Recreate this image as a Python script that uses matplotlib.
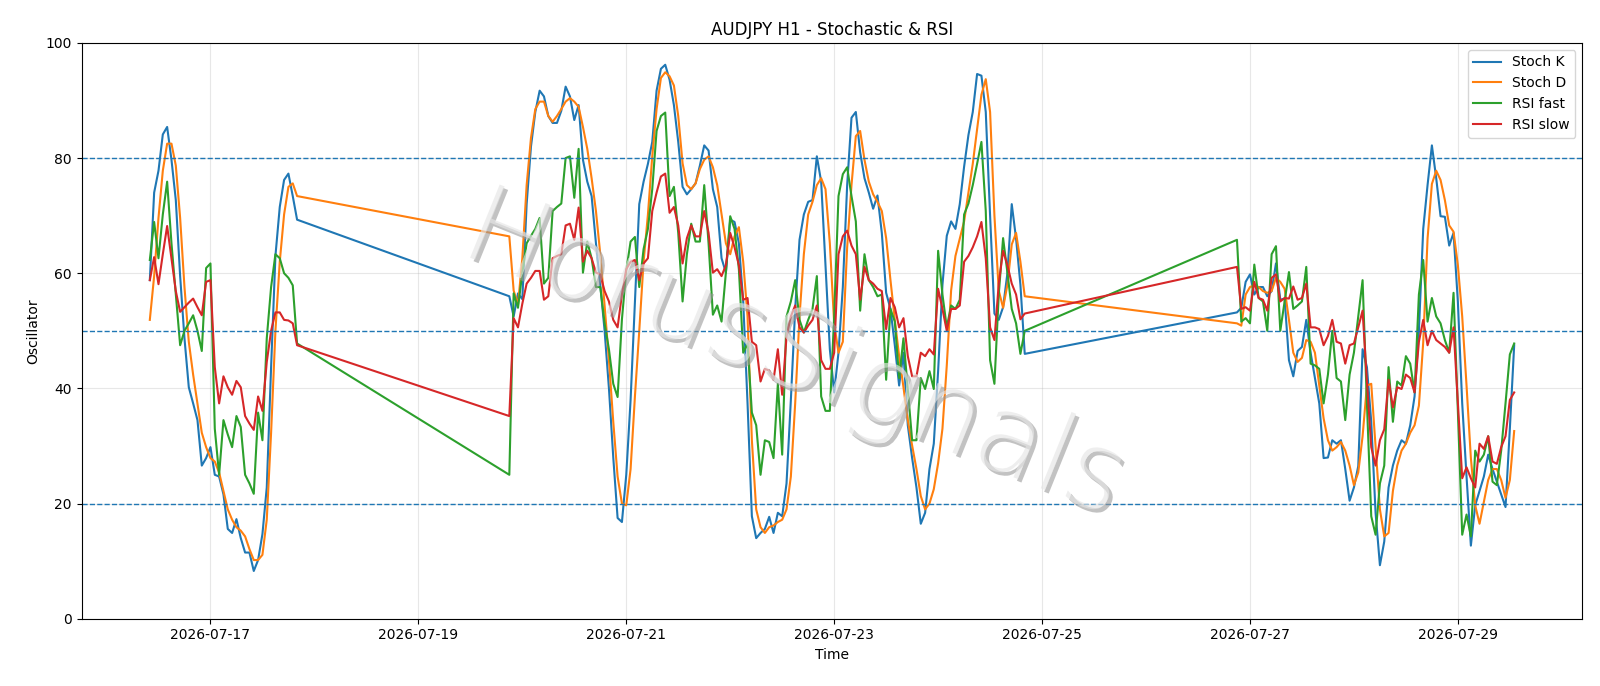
import numpy as np
import pandas as pd
import matplotlib
matplotlib.use("Agg")
import matplotlib.pyplot as plt
import matplotlib.dates as mdates
import matplotlib.patheffects as pe

# hourly bars, three trading blocks (weekend gaps in between)
block_starts = ["2026-07-16 10:00", "2026-07-19 21:00", "2026-07-26 21:00"]

stoch_k = [
    # block 1
    58.8, 74.0, 77.8, 84.1, 85.4, 79.7, 72.7, 59.5, 48.7, 40.2, 37.4, 34.5, 26.6, 27.9, 29.8, 25.0, 24.7, 21.6,
    15.6, 14.9, 17.3, 14.0, 11.5, 11.5, 8.3, 10.2, 14.7, 22.8, 43.7, 63.0, 71.5, 76.2, 77.3, 73.4, 69.3,
    # block 2
    56.0, 52.5, 56.5, 55.5, 72.0, 82.0, 88.0, 91.7, 90.7, 87.3, 86.1, 86.1, 88.2, 92.4, 90.7, 86.6, 89.2, 79.7,
    75.9, 73.4, 65.2, 58.0, 50.0, 40.0, 28.0, 17.5, 16.8, 25.0, 38.0, 55.0, 72.0,
    75.9, 79.0, 82.8, 91.7, 95.5, 96.2, 93.6, 89.2, 82.8, 75.0, 73.7, 74.6, 75.6, 78.7, 82.2, 81.3, 74.6, 71.5,
    62.6, 60.1, 69.3, 68.9, 65.2, 55.1, 37.4, 17.8, 14.0, 14.9, 15.6, 17.7, 14.9, 18.4, 17.8,
    23.5, 38.0, 53.8, 65.8, 70.2, 72.4, 72.7, 80.3, 75.9, 61.4, 46.8, 39.3, 46.2, 57.6, 75.3, 87.0, 88.0, 81.0,
    76.5, 74.0, 71.2, 73.5, 67.0, 56.6, 53.8, 47.5, 40.5, 46.2, 33.6, 27.9, 22.8, 16.5, 18.4, 26.0,
    30.4, 43.0, 58.0, 66.5, 69.0, 67.7, 72.0, 78.5, 84.0, 88.0, 94.6, 94.3, 88.0, 70.0, 53.0, 51.9, 54.1, 60.0,
    72.0, 66.0, 58.0, 46.0,
    # block 3
    53.2, 54.0, 58.5, 59.8, 56.3, 57.6, 57.6, 56.0, 56.9, 61.7, 55.4, 55.6, 44.9, 42.1, 46.5, 47.2, 51.9, 46.2,
    41.8, 37.4, 27.9, 28.0, 31.0, 30.4, 31.0, 26.0, 20.5,
    22.8, 26.5, 46.8, 43.7, 34.2, 18.4, 9.3, 13.4, 22.8, 26.6, 29.2, 31.0, 30.4, 33.6, 38.6, 50.0, 67.7, 75.3,
    82.2, 76.5, 69.9, 69.8, 64.8, 67.0, 55.0, 37.4, 24.7, 12.7, 19.7, 22.2, 24.7, 28.5, 26.0, 23.8, 21.6, 19.4,
    33.0, 47.5,
]

stoch_d = [
    51.9, 59.5, 69.6, 77.8, 82.5, 82.5, 78.7, 69.6, 57.6, 48.1, 42.4, 37.4, 32.3, 29.8, 27.9, 27.3, 25.4, 22.2,
    19.0, 17.2, 15.9, 15.3, 14.3, 12.1, 10.2, 10.2, 11.1, 17.2, 32.3, 50.0, 62.0, 70.2, 75.0, 75.6, 73.4,
    66.4, 57.0, 54.5, 62.6, 75.3, 83.5, 88.5, 89.8, 89.8, 87.3, 86.3, 87.3, 88.5, 89.8, 90.4, 89.8, 88.9, 85.4,
    81.6, 76.5, 70.8, 63.3, 54.4, 44.9, 34.2, 24.7, 20.0, 19.7, 26.0, 38.6, 50.0,
    62.0, 70.2, 80.3, 88.5, 93.9, 94.9, 94.2, 92.6, 87.3, 79.1, 75.3, 74.6, 75.6, 78.1, 79.7, 80.3, 78.4, 75.3,
    70.2, 65.2, 63.3, 66.4, 68.0, 62.0, 52.5, 31.0, 19.0, 15.9, 14.9, 15.9, 16.2, 16.8, 17.2,
    19.0, 24.7, 37.4, 52.5, 63.3, 70.2, 72.4, 75.3, 76.5, 74.6, 65.2, 51.3, 46.2, 48.1, 64.5, 75.3, 83.8, 84.7,
    79.7, 75.9, 73.7, 72.4, 70.8, 66.1, 58.8, 51.9, 45.6, 40.2, 34.5, 30.1, 26.0, 21.3, 19.0, 20.0,
    22.5, 27.0, 33.0, 44.0, 57.0, 63.0, 66.0, 69.0, 74.0, 79.0, 85.0, 91.0, 93.7, 88.0, 70.0, 57.0, 54.0, 58.0,
    65.0, 67.0, 62.0, 56.0,
    51.3, 50.9, 56.3, 57.6, 57.9, 57.6, 56.9, 56.6, 56.9, 59.2, 58.5, 57.3, 51.9, 46.2, 44.6, 45.3, 48.4, 48.1,
    46.2, 40.5, 34.8, 31.0, 29.2, 29.8, 30.7, 29.2, 26.6,
    23.2, 25.4, 31.7, 40.5, 40.8, 29.8, 19.0, 14.3, 14.9, 22.2, 26.6, 29.2, 30.4, 32.3, 33.6, 37.0, 48.0, 66.0,
    75.5, 77.8, 76.2, 72.7, 68.3, 67.2, 61.4, 52.5, 40.5, 27.9, 19.7, 16.5, 20.3, 24.1, 26.0, 26.0, 24.1, 21.0,
    24.1, 32.6,
]

rsi_fast = [
    62.3, 68.9, 62.6, 70.2, 75.9, 65.2, 56.3, 47.5, 50.0, 51.3, 52.7, 50.0, 46.5, 60.9, 61.7, 33.0, 25.0, 34.5,
    32.0, 29.8, 35.2, 33.3, 25.0, 23.5, 21.7, 35.8, 31.0, 48.7, 57.6, 63.3, 62.6, 60.0, 59.2, 57.9, 47.8,
    25.0, 56.5, 54.0, 60.0, 65.2, 66.5, 67.7, 69.6, 58.2, 59.2, 70.8, 71.5, 72.1, 80.0, 80.3, 73.1, 81.6, 60.1,
    65.5, 62.6, 57.6, 57.6, 51.3, 46.8, 40.8, 38.5, 52.0, 60.5, 65.5, 66.3, 57.6,
    64.2, 67.7, 74.6, 84.7, 87.3, 87.9, 73.4, 75.0, 67.0, 55.1, 63.3, 68.6, 65.5, 65.5, 75.3, 65.2, 52.8, 54.4,
    51.6, 60.1, 69.9, 67.7, 60.7, 46.2, 47.8, 35.8, 33.6, 25.0, 31.0, 30.7, 27.9, 40.8, 28.5,
    52.5, 55.1, 58.8, 51.9, 49.7, 51.9, 53.8, 59.5, 38.6, 36.1, 36.1, 52.5, 73.4, 77.2, 78.4, 73.4, 69.0, 53.5,
    63.3, 58.8, 57.6, 56.0, 56.3, 41.5, 53.8, 51.6, 41.8, 48.7, 39.9, 31.0, 31.0, 41.8, 39.9, 43.0,
    39.9, 63.9, 56.3, 50.6, 54.4, 53.8, 55.4, 70.2, 72.1, 75.3, 79.0, 82.8, 70.8, 44.9, 40.8, 56.3, 66.1, 60.1,
    53.8, 51.3, 46.0, 50.0,
    65.8, 51.6, 52.2, 51.3, 61.5, 55.7, 55.1, 50.0, 63.3, 64.7, 50.0, 55.1, 60.2, 53.8, 54.4, 55.1, 61.1, 44.3,
    44.0, 43.4, 37.4, 42.4, 50.0, 41.8, 41.2, 34.5, 42.4,
    46.2, 52.5, 58.8, 37.4, 17.8, 14.6, 23.5, 26.6, 43.7, 34.2, 41.2, 40.5, 45.6, 44.3, 39.3, 56.3, 62.3, 51.6,
    55.7, 52.5, 51.3, 48.4, 46.2, 56.6, 36.0, 14.6, 18.1, 14.3, 29.2, 27.3, 28.5, 31.7, 23.8, 23.2, 29.2, 37.4,
    45.9, 47.8,
]

rsi_slow = [
    58.8, 62.8, 58.1, 63.3, 68.2, 62.6, 56.9, 53.3, 54.1, 54.9, 55.6, 54.1, 52.7, 58.5, 58.8, 43.7, 37.4, 42.1,
    40.2, 38.9, 41.3, 40.2, 35.2, 33.9, 32.8, 38.6, 36.1, 44.6, 50.0, 53.2, 53.2, 51.9, 51.8, 51.3, 47.5,
    35.2, 52.2, 50.6, 54.7, 58.2, 59.2, 60.4, 60.4, 55.4, 56.0, 62.6, 63.0, 63.3, 68.3, 68.6, 65.8, 71.4, 62.0,
    63.9, 62.6, 60.1, 59.8, 56.9, 55.1, 51.9, 50.6, 56.3, 60.7, 62.0, 62.3, 58.8,
    61.7, 62.6, 70.8, 74.0, 76.8, 77.3, 70.5, 71.5, 68.3, 61.7, 66.1, 68.3, 66.4, 66.4, 70.8, 67.0, 60.1, 60.7,
    59.5, 61.4, 67.0, 64.5, 61.4, 55.4, 55.7, 48.1, 47.5, 41.2, 43.4, 43.1, 41.5, 46.8, 38.9,
    49.0, 52.5, 54.4, 50.6, 49.7, 50.9, 51.9, 54.4, 44.9, 43.4, 43.4, 46.2, 63.3, 66.4, 67.4, 64.8, 63.3, 55.4,
    61.1, 58.8, 58.2, 57.3, 56.9, 50.3, 55.7, 54.1, 50.6, 52.2, 45.6, 42.1, 42.1, 46.2, 45.6, 46.8,
    45.9, 57.3, 53.8, 50.0, 53.8, 53.8, 54.4, 62.0, 63.0, 64.5, 66.4, 68.9, 62.6, 50.6, 48.4, 58.2, 63.9, 61.4,
    58.2, 56.3, 52.0, 53.0,
    61.1, 53.8, 54.1, 53.5, 58.5, 55.7, 55.4, 53.5, 59.2, 59.8, 55.1, 55.7, 55.6, 57.7, 55.4, 55.7, 58.2, 50.6,
    50.6, 50.3, 47.5, 49.1, 51.9, 48.1, 47.8, 44.3, 47.5,
    47.8, 50.6, 53.5, 41.2, 29.8, 26.6, 31.0, 32.9, 41.5, 36.7, 40.2, 39.9, 42.4, 41.8, 39.3, 48.1, 51.9, 47.5,
    50.0, 48.4, 47.8, 47.2, 46.2, 50.6, 37.4, 24.4, 26.3, 24.4, 22.8, 30.4, 29.5, 31.7, 27.3, 26.9, 29.8, 31.7,
    38.0, 39.3,
]

block_lengths = [35, 120, 65]
levels = [80, 50, 20]

times = pd.DatetimeIndex(np.concatenate([
    pd.date_range(start, periods=n, freq="h").values
    for start, n in zip(block_starts, block_lengths)
]))

fig, ax = plt.subplots(figsize=(16, 6.86), dpi=100)
fig.subplots_adjust(left=0.051, right=0.989, top=0.9375, bottom=0.098)

ax.plot(times, stoch_k, label="Stoch K")
ax.plot(times, stoch_d, label="Stoch D")
ax.plot(times, rsi_fast, label="RSI fast")
ax.plot(times, rsi_slow, label="RSI slow")

for lvl in levels:
    ax.axhline(lvl, color="C0", linestyle="--", linewidth=1)

ax.set_ylim(0, 100)
ax.grid(True, alpha=0.3)
ax.xaxis.set_major_locator(mdates.DayLocator(interval=2))
ax.xaxis.set_major_formatter(mdates.DateFormatter("%Y-%m-%d"))
ax.set_title("AUDJPY H1 - Stochastic & RSI")
ax.set_xlabel("Time")
ax.set_ylabel("Oscillator")
ax.legend(loc="upper right")

# watermark: pale thin letters with a soft grey drop shadow
fig.text(0.497, 0.48, "HorusSignals", fontsize=78, color="#e6e6e6", alpha=0.65,
         fontweight="light", rotation=-22, ha="center", va="center", zorder=10,
         path_effects=[pe.withSimplePatchShadow(offset=(2.5, -2.5), shadow_rgbFace="#9a9a9a", alpha=0.6)])

fig.savefig("out.png", dpi=100)
